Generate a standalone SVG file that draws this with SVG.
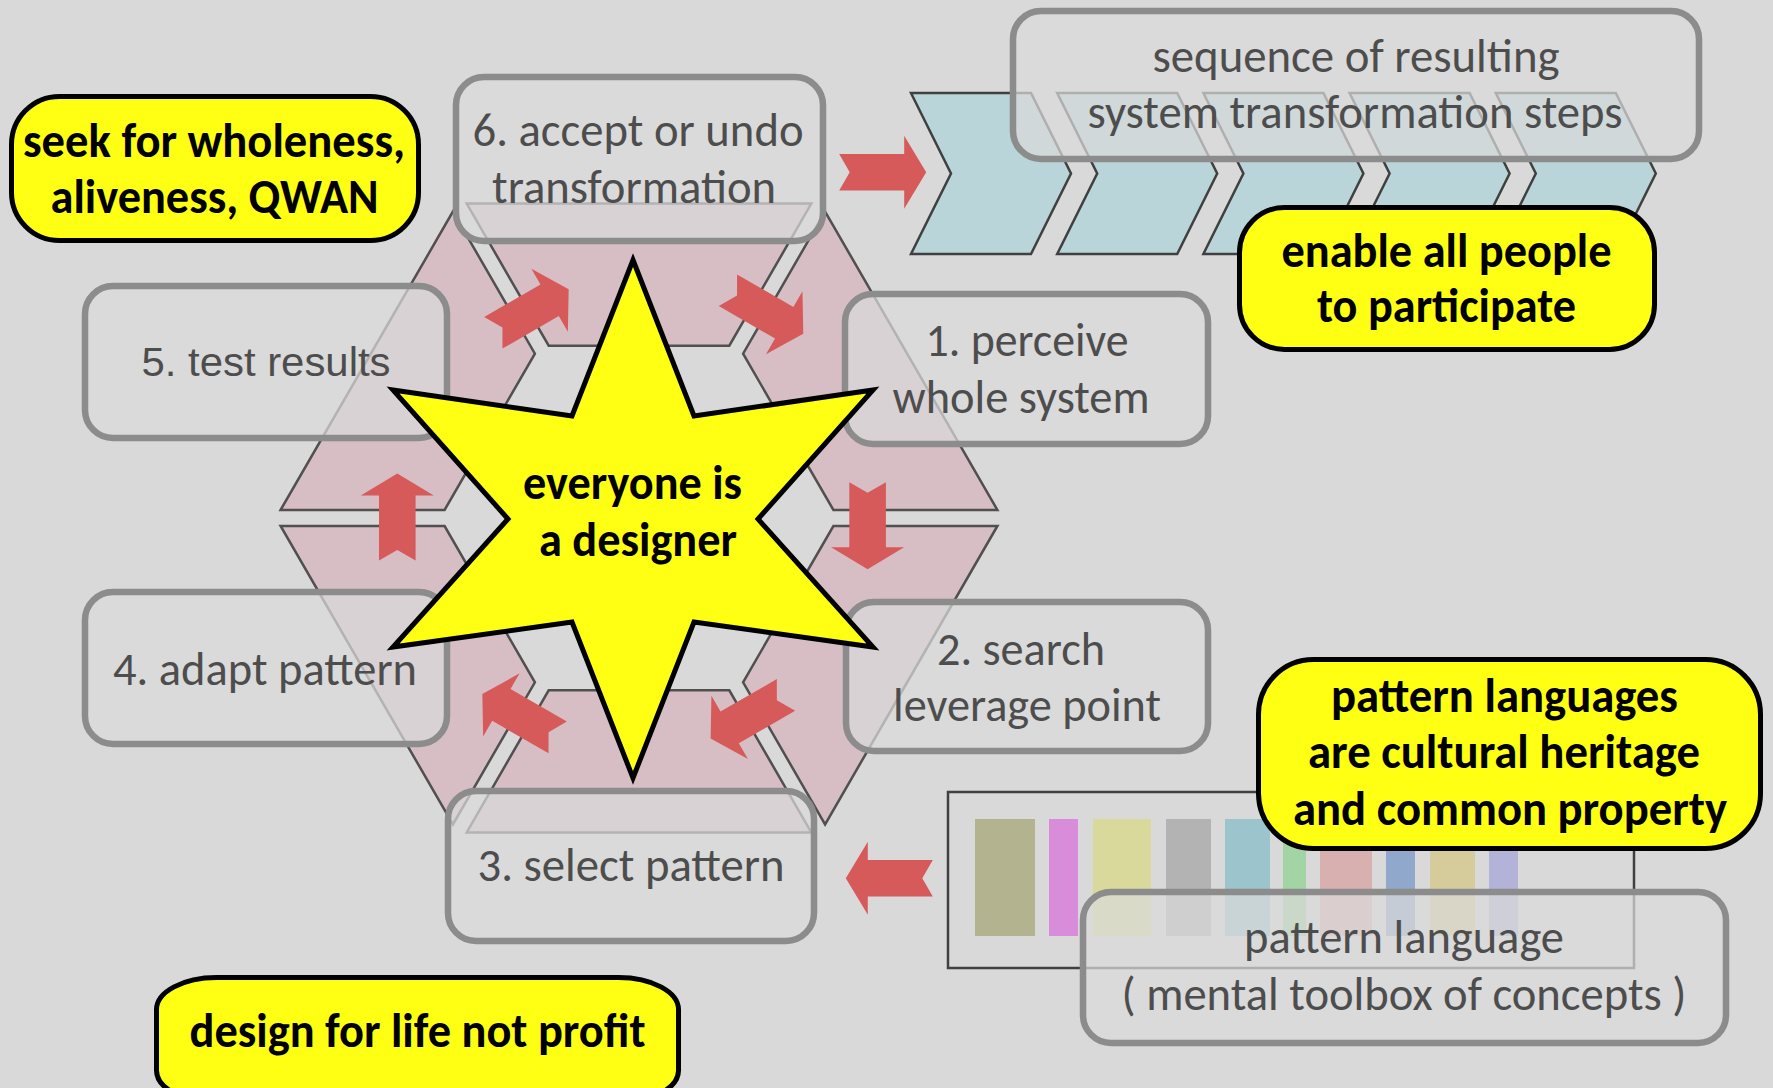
<svg xmlns="http://www.w3.org/2000/svg" width="1773" height="1088" viewBox="0 0 1773 1088">
<style>
.gbox{fill:#d9d9d9;fill-opacity:0.72;stroke:#8c8c8c;stroke-width:6.5}
.ybox{fill:#ffff14;stroke:#000;stroke-width:5}
.seg{fill:#d6bec4;stroke:#505050;stroke-width:2.5}
.chev{fill:#bad5d9;stroke:#404040;stroke-width:2.5}
.arrow{fill:#d65a5a}
.gt{font-family:Carlito,Lato,"Open Sans",sans-serif;font-size:48px;fill:#4d4d4d;text-anchor:middle}
.bt{font-family:Carlito,Lato,"Open Sans",sans-serif;font-size:49px;font-weight:bold;fill:#000;text-anchor:middle}
.at{font-family:"Liberation Sans",Arial,sans-serif;font-size:40px;fill:#4d4d4d;text-anchor:middle}
</style>
<defs>
<path id="arr" d="M-43.5,-18.3 L21.5,-18.3 L21.5,-36.5 L43.5,0 L21.5,36.5 L21.5,18.3 L-43.5,18.3 L-33,0 Z"/>
</defs>
<rect x="0" y="0" width="1773" height="1088" fill="#d9d9d9"/>

<g id="ring">
<polygon class="seg" points="997.4,526 825.1,824.4 743.1,682.3 833.4,526"/>
<polygon class="seg" points="811.3,832.4 466.7,832.4 548.7,690.3 729.3,690.3"/>
<polygon class="seg" points="452.9,824.4 280.6,526 444.6,526 534.9,682.3"/>
<polygon class="seg" points="280.6,510 452.9,211.6 534.9,353.7 444.6,510"/>
<polygon class="seg" points="466.7,203.6 811.3,203.6 729.3,345.7 548.7,345.7"/>
<polygon class="seg" points="825.1,211.6 997.4,510 833.4,510 743.1,353.7"/>
</g>

<g id="chevrons">
<polygon class="chev" points="911,93 1031,93 1071,173.5 1031,254 911,254 951,173.5"/>
<polygon class="chev" points="1057.2,93 1177.2,93 1217.2,173.5 1177.2,254 1057.2,254 1097.2,173.5"/>
<polygon class="chev" points="1203.4,93 1323.4,93 1363.4,173.5 1323.4,254 1203.4,254 1243.4,173.5"/>
<polygon class="chev" points="1349.6,93 1469.6,93 1509.6,173.5 1469.6,254 1349.6,254 1389.6,173.5"/>
<polygon class="chev" points="1495.8,93 1615.8,93 1655.8,173.5 1615.8,254 1495.8,254 1535.8,173.5"/>
</g>

<g id="pattern-toolbox">
<rect x="948" y="792" width="686" height="176" fill="none" stroke="#404040" stroke-width="2.5"/>
<rect x="975" y="819" width="60" height="117" fill="#b3b38f"/>
<rect x="1049" y="819" width="29" height="117" fill="#d98cd9"/>
<rect x="1093" y="819" width="58" height="117" fill="#d9d99b"/>
<rect x="1166" y="819" width="45" height="117" fill="#b3b3b3"/>
<rect x="1225" y="819" width="45" height="117" fill="#9bc4cc"/>
<rect x="1283" y="819" width="23" height="117" fill="#a3d4a3"/>
<rect x="1320" y="819" width="52" height="117" fill="#d9b0b0"/>
<rect x="1386" y="819" width="29" height="117" fill="#8fa8cc"/>
<rect x="1430" y="819" width="45" height="117" fill="#d6cc9b"/>
<rect x="1489" y="819" width="29" height="117" fill="#b3b3d9"/>
</g>

<g id="step6">
<rect class="gbox" x="456" y="77" width="367" height="164" rx="28"/>
<text class="gt" x="638" y="146" textLength="331" lengthAdjust="spacingAndGlyphs">6. accept or undo</text>
<text class="gt" x="634" y="203" textLength="284" lengthAdjust="spacingAndGlyphs">transformation</text>
</g>
<g id="step5">
<rect class="gbox" x="85" y="286" width="362" height="152" rx="28"/>
<text class="at" x="266" y="376" textLength="249" lengthAdjust="spacingAndGlyphs">5. test results</text>
</g>
<g id="step1">
<rect class="gbox" x="845" y="294" width="363" height="150" rx="28"/>
<text class="gt" x="1027" y="356" textLength="203" lengthAdjust="spacingAndGlyphs">1. perceive</text>
<text class="gt" x="1021" y="413" textLength="257" lengthAdjust="spacingAndGlyphs">whole system</text>
</g>
<g id="step4">
<rect class="gbox" x="85" y="592" width="362" height="152" rx="28"/>
<text class="gt" x="265" y="685" textLength="304" lengthAdjust="spacingAndGlyphs">4. adapt pattern</text>
</g>
<g id="step2">
<rect class="gbox" x="846" y="602" width="362" height="149" rx="28"/>
<text class="gt" x="1021" y="665" textLength="168" lengthAdjust="spacingAndGlyphs">2. search</text>
<text class="gt" x="1027" y="721" textLength="268" lengthAdjust="spacingAndGlyphs">leverage point</text>
</g>
<g id="step3">
<rect class="gbox" x="448" y="791" width="366" height="150" rx="28"/>
<text class="gt" x="631" y="881" textLength="307" lengthAdjust="spacingAndGlyphs">3. select pattern</text>
</g>
<g id="sequence">
<rect class="gbox" x="1013" y="11" width="686" height="148" rx="28"/>
<text class="gt" x="1356" y="72" textLength="407" lengthAdjust="spacingAndGlyphs">sequence of resulting</text>
<text class="gt" x="1355" y="128" textLength="535" lengthAdjust="spacingAndGlyphs">system transformation steps</text>
</g>
<g id="pattern-language">
<rect class="gbox" x="1083" y="892" width="643" height="151" rx="28"/>
<text class="gt" x="1404" y="953" textLength="320" lengthAdjust="spacingAndGlyphs">pattern language</text>
<text class="gt" x="1404" y="1010" textLength="565" lengthAdjust="spacingAndGlyphs">( mental toolbox of concepts )</text>
</g>

<g id="connectors">
<use href="#arr" class="arrow" transform="translate(882.7,172.3)"/>
<use href="#arr" class="arrow" transform="translate(889.3,878.3) rotate(180)"/>
<use href="#arr" class="arrow" transform="translate(531,311) rotate(-30)"/>
<use href="#arr" class="arrow" transform="translate(765.6,312) rotate(30)"/>
<use href="#arr" class="arrow" transform="translate(867.6,525.8) rotate(90)"/>
<use href="#arr" class="arrow" transform="translate(748.3,716.7) rotate(150)"/>
<use href="#arr" class="arrow" transform="translate(520,715.7) rotate(210)"/>
<use href="#arr" class="arrow" transform="translate(397.3,517) rotate(-90)"/>
</g>

<g id="star">
<polygon points="633,260 694,416 873,390 758,519 873,647 694,622 633,778 572,622 393,647 508,519 393,390 572,416" fill="#ffff14" stroke="#000" stroke-width="5" stroke-linejoin="miter"/>
<text class="bt" x="632.5" y="499" textLength="219" lengthAdjust="spacingAndGlyphs">everyone is</text>
<text class="bt" x="638" y="556" textLength="198" lengthAdjust="spacingAndGlyphs">a designer</text>
</g>

<g id="seek">
<rect class="ybox" x="11.5" y="96.5" width="407" height="144" rx="48"/>
<text class="bt" x="214" y="157" textLength="382" lengthAdjust="spacingAndGlyphs">seek for wholeness,</text>
<text class="bt" x="214.5" y="213" textLength="328" lengthAdjust="spacingAndGlyphs">aliveness, QWAN</text>
</g>
<g id="enable">
<rect class="ybox" x="1239.5" y="207.5" width="415" height="142" rx="45"/>
<text class="bt" x="1446.5" y="267" textLength="330" lengthAdjust="spacingAndGlyphs">enable all people</text>
<text class="bt" x="1446.5" y="322" textLength="259" lengthAdjust="spacingAndGlyphs">to participate</text>
</g>
<g id="heritage">
<rect class="ybox" x="1258.5" y="659.5" width="502" height="189" rx="55"/>
<text class="bt" x="1504.5" y="712" textLength="347" lengthAdjust="spacingAndGlyphs">pattern languages</text>
<text class="bt" x="1504" y="768" textLength="392" lengthAdjust="spacingAndGlyphs">are cultural heritage</text>
<text class="bt" x="1510" y="825" textLength="434" lengthAdjust="spacingAndGlyphs">and common property</text>
</g>
<g id="design">
<rect class="ybox" x="156.5" y="977.5" width="522" height="125" rx="60" ry="32"/>
<text class="bt" x="417.5" y="1047" textLength="456" lengthAdjust="spacingAndGlyphs">design for life not profit</text>
</g>
</svg>
